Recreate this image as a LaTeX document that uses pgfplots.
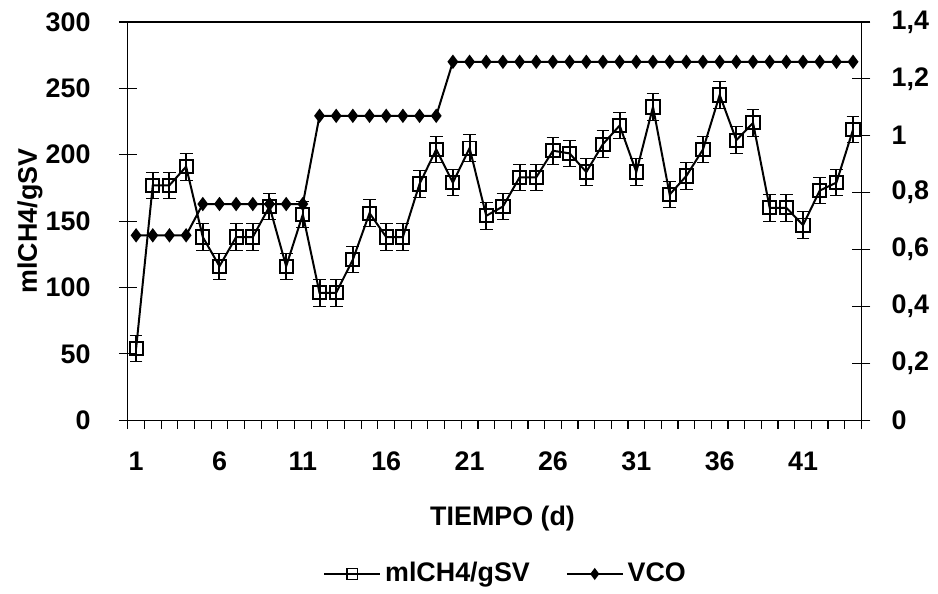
\documentclass[border=0pt]{standalone}
\usepackage{fontspec}
\setmainfont{Liberation Sans}
\usepackage{pgfplots}
\pgfplotsset{compat=1.18}

\pgfplotsset{
  base/.style={width=367.5bp, height=199.5bp, scale only axis,
    at={(0,0)}, anchor=south west,
    xmin=0.5, xmax=44.5,
    /pgf/number format/assume math mode=true,
    axis line style={line width=0.6bp, black},
    tick style={line width=0.6bp, black}},
}

\begin{document}
{\fontsize{13.5}{16}\selectfont\bfseries
\begin{tikzpicture}
% frame, left axis, x labels, mlCH4/gSV
\begin{axis}[base,
  ymin=0, ymax=300, ytick={0,50,...,300},
  ytick pos=left, xtick pos=bottom,
  xtick={1,6,...,41}, xtick style={draw=none},
  tick align=center, major tick length=9bp,
  yticklabel style={xshift=-9.5bp},
  xticklabel style={yshift=-6.5bp},
  ylabel={mlCH4/gSV},
  ylabel style={at={(axis description cs:0,0.5)}, anchor=center, yshift=49bp},
  xlabel={TIEMPO (d)},
  xlabel style={at={(axis description cs:0.5,0)}, anchor=center, yshift=-49.5bp, xshift=4bp}]
\addplot[black, line width=1bp, mark=square, mark size=3.3bp,
  error bars/.cd, y dir=both, y explicit,
  error bar style={line width=1bp, black, mark size=3.2bp}]
  coordinates {
  (1,54) +- (0,10) (2,177) +- (0,10) (3,177) +- (0,10) (4,191) +- (0,10)
  (5,138) +- (0,10) (6,116) +- (0,10) (7,138) +- (0,10) (8,138) +- (0,10)
  (9,161) +- (0,10) (10,116) +- (0,10) (11,155) +- (0,10) (12,96) +- (0,10)
  (13,96) +- (0,10) (14,121) +- (0,10) (15,156) +- (0,10) (16,138) +- (0,10)
  (17,138) +- (0,10) (18,178) +- (0,10) (19,204) +- (0,10) (20,179) +- (0,10)
  (21,205) +- (0,10) (22,154) +- (0,10) (23,161) +- (0,10) (24,183) +- (0,10)
  (25,183) +- (0,10) (26,203) +- (0,10) (27,201) +- (0,10) (28,187) +- (0,10)
  (29,208) +- (0,10) (30,222) +- (0,10) (31,187) +- (0,10) (32,236) +- (0,10)
  (33,170) +- (0,10) (34,184) +- (0,10) (35,204) +- (0,10) (36,245) +- (0,10)
  (37,211) +- (0,10) (38,224) +- (0,10) (39,160) +- (0,10) (40,160) +- (0,10)
  (41,147) +- (0,10) (42,173) +- (0,10) (43,179) +- (0,10) (44,219) +- (0,10)
  };
\end{axis}
% category boundary ticks on the x axis
\begin{axis}[base, ymin=0, ymax=1,
  axis line style={draw=none}, ytick=\empty,
  xtick={0.5,1.5,...,44.5}, xticklabel={\phantom{0}}, xtick pos=bottom,
  tick align=outside, major tick length=4.5bp]
\end{axis}
% right axis, VCO
\begin{axis}[base,
  axis y line*=right, axis x line=none,
  ymin=0, ymax=1.4, ytick={0,0.2,0.4,0.6,0.8,1,1.2,1.4},
  /pgf/number format/use comma,
  tick align=center, major tick length=9bp,
  yticklabel style={xshift=6bp},
  legend columns=2,
  legend style={draw=none, fill=none, at={(0.5,0)}, anchor=center,
    xshift=6bp, yshift=-77bp,
    /tikz/every even column/.append style={column sep=16bp}},
  legend image code/.code={\draw[mark repeat=2,mark phase=2,#1]
    plot coordinates {(0bp,0bp) (14bp,0bp) (28bp,0bp)};}]
\addlegendimage{black, line width=1bp, mark=square, mark size=2.6bp, mark options={line width=0.6bp}}
\addlegendentry{mlCH4/gSV}
\addplot[black, line width=1bp, mark=diamond*, mark size=2.8bp, forget plot]
  coordinates {
  (1,0.65) (2,0.65) (3,0.65) (4,0.65)
  (5,0.76) (6,0.76) (7,0.76) (8,0.76) (9,0.76) (10,0.76) (11,0.76)
  (12,1.07) (13,1.07) (14,1.07) (15,1.07) (16,1.07) (17,1.07) (18,1.07) (19,1.07)
  (20,1.26) (21,1.26) (22,1.26) (23,1.26) (24,1.26) (25,1.26) (26,1.26) (27,1.26)
  (28,1.26) (29,1.26) (30,1.26) (31,1.26) (32,1.26) (33,1.26) (34,1.26) (35,1.26)
  (36,1.26) (37,1.26) (38,1.26) (39,1.26) (40,1.26) (41,1.26) (42,1.26) (43,1.26)
  (44,1.26)
  };
\addlegendimage{black, line width=1bp, mark=diamond*, mark size=2.2bp}
\addlegendentry{VCO}
\end{axis}
\path (-64bp,-86bp) rectangle (405bp,210.5bp);
\end{tikzpicture}}
\end{document}
